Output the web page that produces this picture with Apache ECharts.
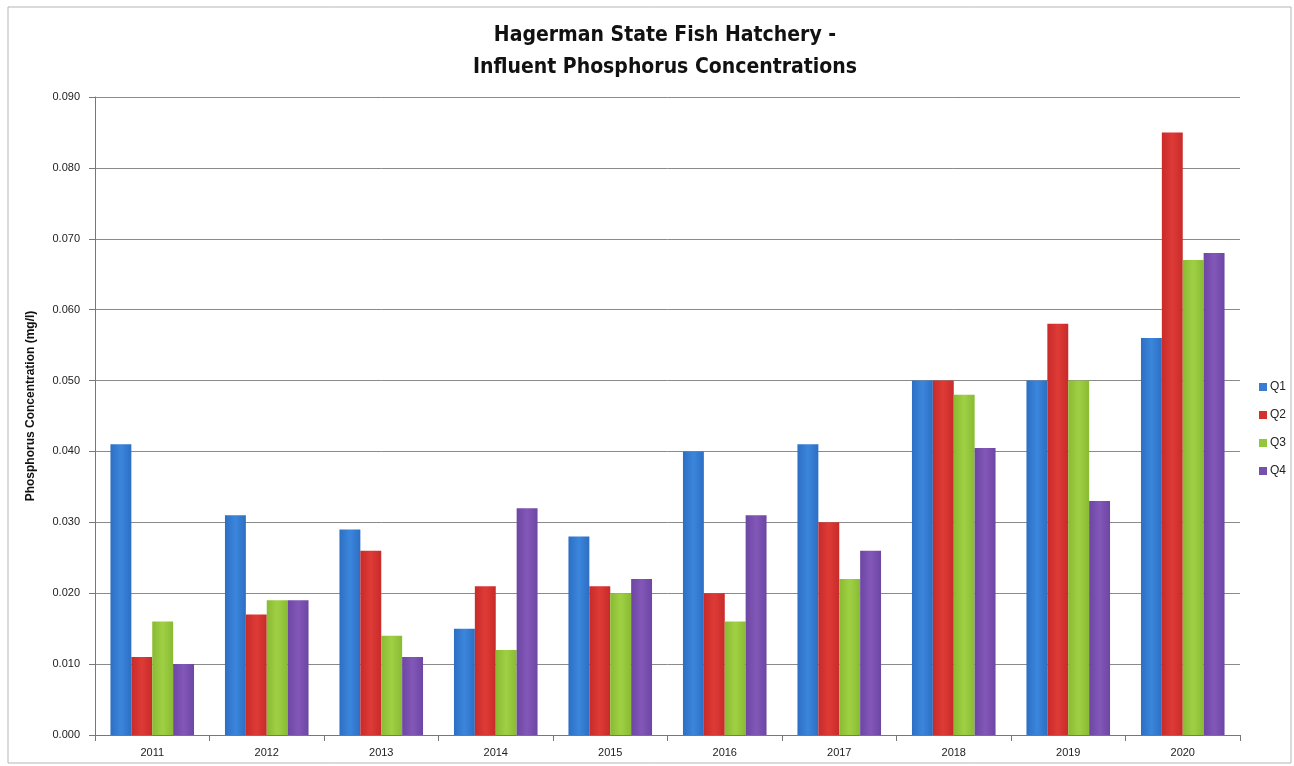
<!DOCTYPE html>
<html>
<head>
<meta charset="utf-8">
<script src="https://cdn.jsdelivr.net/npm/echarts@6/dist/echarts.min.js"></script>
<style>
  html, body { margin: 0; padding: 0; background: #fff; }
  #chart { width: 1294px; height: 766px; }
</style>
</head>
<body>
<div id="chart"></div>
<script>
// years along the x axis
var years = ['2011', '2012', '2013', '2014', '2015', '2016', '2017', '2018', '2019', '2020'];

// quarterly influent phosphorus (mg/l)
var q1 = [0.041, 0.031, 0.029, 0.015, 0.028, 0.040, 0.041, 0.050, 0.050, 0.056];
var q2 = [0.011, 0.017, 0.026, 0.021, 0.021, 0.020, 0.030, 0.050, 0.058, 0.085];
var q3 = [0.016, 0.019, 0.014, 0.012, 0.020, 0.016, 0.022, 0.048, 0.050, 0.067];
var q4 = [0.010, 0.019, 0.011, 0.032, 0.022, 0.031, 0.026, 0.0405, 0.033, 0.068];

var seriesNames = ['Q1', 'Q2', 'Q3', 'Q4'];

var myChart = echarts.init(document.getElementById('chart'), null, {renderer: 'canvas'});

function shade(c1, c2) {
    return new echarts.graphic.LinearGradient(0, 0, 1, 0, [
        {offset: 0, color: c1},
        {offset: 0.5, color: c2},
        {offset: 1, color: c1}
    ]);
}

var colors = [
    shade('#2c6fc4', '#3b86dc'),
    shade('#c82b2a', '#de3b36'),
    shade('#89bb33', '#9fd044'),
    shade('#6d46a3', '#8257b8')
];
var legendColors = ['#3a7dd0', '#d5302f', '#93c63b', '#7650ad'];

function makeSeries(name, values, i) {
    return {
        name: name,
        type: 'bar',
        data: values,
        barGap: '0%',
        barCategoryGap: '27%',
        itemStyle: {color: colors[i]}
    };
}

var option = {
    animation: false,
    backgroundColor: '#fff',
    color: legendColors,
    title: {
        text: 'Hagerman State Fish Hatchery -\nInfluent Phosphorus Concentrations',
        left: 660,
        textAlign: 'center',
        top: 15,
        textStyle: {
            fontFamily: 'Liberation Sans Narrow, DejaVu Sans Condensed, sans-serif',
            fontSize: 21,
            fontWeight: 'bold',
            color: '#111',
            lineHeight: 32
        }
    },
    legend: {
        orient: 'vertical',
        left: 1254,
        top: 376,
        itemWidth: 8,
        itemHeight: 8,
        itemGap: 16,
        icon: 'rect',
        data: seriesNames.map(function (n, i) {
            return {name: n, itemStyle: {color: legendColors[i]}};
        }),
        textStyle: {fontFamily: 'Liberation Sans, sans-serif', fontSize: 12, color: '#222', padding: [0, 0, 0, -2]}
    },
    grid: {
        left: 95,
        top: 97,
        width: 1145,
        height: 638,
        containLabel: false
    },
    xAxis: {
        type: 'category',
        data: years,
        axisLine: {lineStyle: {color: '#777', width: 1}},
        axisTick: {show: true, length: 6, lineStyle: {color: '#777'}},
        axisLabel: {fontFamily: 'Liberation Sans, sans-serif', fontSize: 11, color: '#222', margin: 12}
    },
    yAxis: {
        type: 'value',
        min: 0,
        max: 0.09,
        interval: 0.01,
        name: 'Phosphorus Concentration (mg/l)',
        nameLocation: 'middle',
        nameRotate: 90,
        nameGap: 58,
        nameTextStyle: {
            fontFamily: 'Liberation Sans, sans-serif',
            fontSize: 12,
            fontWeight: 'bold',
            color: '#111',
            padding: [0, 0, 0, 20]
        },
        axisLine: {show: true, lineStyle: {color: '#777', width: 1}},
        axisTick: {show: true, length: 6, lineStyle: {color: '#777'}},
        axisLabel: {
            fontFamily: 'Liberation Sans, sans-serif',
            fontSize: 11,
            color: '#222',
            margin: 15,
            formatter: function (v) { return v.toFixed(3); }
        },
        splitLine: {lineStyle: {color: '#8a8a8a', width: 1}}
    },
    graphic: [{
        type: 'rect',
        shape: {x: 8, y: 7, width: 1283, height: 756},
        style: {fill: 'none', stroke: '#b5b5b5', lineWidth: 1},
        silent: true
    }],
    series: [
        makeSeries('Q1', q1, 0),
        makeSeries('Q2', q2, 1),
        makeSeries('Q3', q3, 2),
        makeSeries('Q4', q4, 3)
    ]
};

myChart.setOption(option);
</script>
</body>
</html>
